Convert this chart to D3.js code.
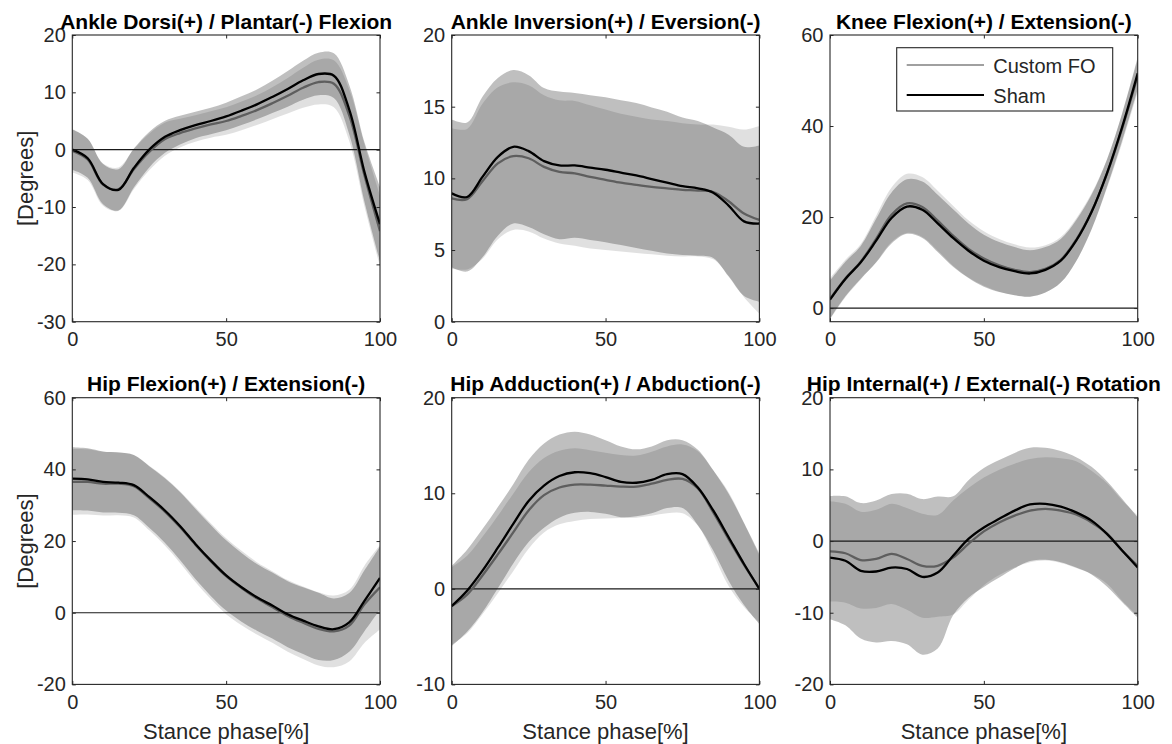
<!DOCTYPE html>
<html><head><meta charset="utf-8">
<script src="https://cdn.jsdelivr.net/npm/d3@7"></script>
<style>
body{margin:0;background:#fff}
svg{display:block}
text{font-family:"Liberation Sans",Arial,Helvetica,sans-serif}
</style></head>
<body><svg id="c" width="1172" height="744"></svg>
<script>
// ---------- DATA ----------
const stance = [0,5,10,15,20,25,30,35,40,45,50,55,60,65,70,75,80,85,90,95,100];
const seriesNames = ["Custom FO","Sham"];
const titles = [
  "Ankle Dorsi(+) / Plantar(-) Flexion",
  "Ankle Inversion(+) / Eversion(-)",
  "Knee Flexion(+) / Extension(-)",
  "Hip Flexion(+) / Extension(-)",
  "Hip Adduction(+) / Abduction(-)",
  "Hip Internal(+) / External(-) Rotation"
];
const yDomains = [[-30,20],[0,20],[-3,60],[-20,60],[-10,20],[-20,20]];
const yTickValues = [[-30,-20,-10,0,10,20],[0,5,10,15,20],[0,20,40,60],[-20,0,20,40,60],[-10,0,10,20],[-20,-10,0,10,20]];
const xTickValues = [0,50,100];
const yLabel = "[Degrees]";
const xLabel = "Stance phase[%]";

// Ankle dorsi/plantar flexion
const ankleDPSham   = [0,-1.5,-6.0,-7.0,-3.2,0.0,2.2,3.4,4.3,5.0,5.8,6.8,7.9,9.2,10.6,12.1,13.2,12.9,7.0,-4.0,-13.0];
const ankleDPShamSD = [3.5,3.4,3.5,3.6,3.4,3.1,2.8,2.5,2.3,2.3,2.4,2.5,2.6,2.8,3.1,3.4,3.7,3.9,4.3,5.2,6.5];
const ankleDPCFO    = [-0.2,-1.7,-6.1,-6.9,-3.4,-0.4,1.8,2.9,3.7,4.4,5.0,5.9,6.9,8.1,9.4,10.8,11.8,11.5,6.0,-4.6,-14.2];
const ankleDPCFOSD  = [3.8,3.6,3.7,3.8,3.5,3.2,2.9,2.5,2.3,2.3,2.4,2.5,2.6,2.8,3.1,3.5,3.9,4.1,4.5,5.4,6.2];
// Ankle inversion/eversion
const ankleIESham   = [8.95,8.7,10.1,11.5,12.2,11.9,11.2,10.9,10.9,10.75,10.6,10.4,10.2,9.95,9.7,9.45,9.3,9.0,8.1,7.0,6.85];
const ankleIEShamSD = [5.15,5.2,5.6,5.5,5.35,5.3,5.1,5.15,5.05,5.05,5.05,5.05,5.05,5.0,4.95,4.8,4.7,4.55,4.95,5.2,5.45];
const ankleIECFO    = [8.6,8.55,9.8,11.05,11.55,11.4,10.8,10.45,10.35,10.1,9.9,9.7,9.55,9.4,9.3,9.2,9.15,9.05,8.4,7.55,7.1];
const ankleIECFOSD  = [4.9,4.9,5.4,5.3,5.15,5.1,5.0,5.0,5.05,5.0,4.9,4.8,4.75,4.7,4.7,4.65,4.6,4.7,5.2,5.85,6.55];
// Knee flexion/extension
const kneeSham   = [1.85,6.4,10.05,14.8,19.8,22.3,21.6,18.6,15.4,12.6,10.4,9.0,8.1,7.6,8.4,10.4,14.8,21.1,29.6,39.9,51.6];
const kneeShamSD = [4.2,3.8,3.6,4.8,5.6,6.0,6.2,6.3,6.3,6.0,5.7,5.5,5.3,5.1,5.0,4.8,4.5,3.8,3.0,3.0,3.5];
const kneeCFO    = [2.0,6.5,10.2,15.2,20.5,23.0,22.2,19.2,15.9,13.0,10.9,9.4,8.4,7.9,8.6,10.6,15.0,21.2,29.5,39.6,51.0];
const kneeCFOSD  = [4.5,4.1,3.9,5.1,6.0,6.5,6.6,6.6,6.6,6.3,6.0,5.8,5.6,5.4,5.2,5.0,4.7,4.0,3.2,3.2,3.6];
// Hip flexion/extension
const hipFESham   = [37.4,37.2,36.5,36.3,35.6,32.3,28.6,24.2,19.2,14.6,10.4,7.1,4.3,2.0,-0.4,-2.2,-3.8,-4.6,-2.7,3.4,9.7];
const hipFEShamSD = [8.8,8.7,8.5,8.4,8.4,8.6,9.0,9.5,9.8,9.9,9.8,9.6,9.3,9.2,9.2,9.3,9.4,8.6,8.2,8.5,8.8];
const hipFECFO    = [36.5,36.5,36.0,36.0,35.3,32.0,28.3,23.9,19.0,14.4,10.2,6.9,4.0,1.6,-0.9,-2.8,-4.5,-5.2,-3.6,2.4,7.1];
const hipFECFOSD  = [9.2,9.1,8.9,8.8,8.7,9.0,9.5,10.0,10.4,10.6,10.6,10.4,10.1,10.0,10.0,10.1,10.2,10.0,10.0,10.8,11.8];
// Hip adduction/abduction
const hipAASham   = [-1.8,-0.2,1.9,4.3,6.8,9.2,10.8,11.8,12.2,12.1,11.7,11.2,11.1,11.4,12.0,12.0,10.6,8.2,5.4,2.6,0.0];
const hipAAShamSD = [4.2,4.3,4.35,4.25,4.15,4.3,4.4,4.35,4.25,4.05,3.85,3.7,3.5,3.5,3.55,3.55,3.95,4.2,4.55,4.3,3.7];
const hipAACFO    = [-1.8,-0.6,1.4,3.6,5.9,8.2,9.8,10.6,10.9,10.9,10.8,10.7,10.7,11.0,11.4,11.5,10.5,8.0,5.2,2.5,0.0];
const hipAACFOSD  = [4.05,4.05,4.05,4.05,4.05,4.0,3.9,3.85,3.8,3.6,3.45,3.3,3.25,3.35,3.5,3.6,3.9,4.4,4.9,4.4,3.5];
// Hip internal/external rotation
const hipIESham   = [-2.3,-2.75,-4.15,-4.25,-3.7,-3.9,-5.0,-4.4,-2.05,0.3,1.9,3.1,4.25,5.1,5.2,4.8,4.0,2.85,1.0,-1.35,-3.7];
const hipIEShamSD = [8.6,9.0,9.45,9.9,10.25,10.5,10.85,10.6,8.3,8.2,8.3,8.2,8.05,7.9,7.8,7.75,7.7,7.5,7.35,7.2,7.0];
const hipIECFO    = [-1.45,-1.7,-2.65,-2.5,-1.8,-2.5,-3.45,-3.45,-2.3,-0.4,1.35,2.6,3.55,4.25,4.5,4.25,3.7,2.6,1.05,-1.35,-3.45];
const hipIECFOSD  = [7.0,6.9,6.75,6.85,7.0,7.1,7.25,7.1,7.95,7.8,7.5,7.35,7.25,7.2,7.2,7.3,7.45,7.2,7.0,7.0,7.0];

const panels = [
  {cfo:ankleDPCFO, cfoSD:ankleDPCFOSD, sham:ankleDPSham, shamSD:ankleDPShamSD},
  {cfo:ankleIECFO, cfoSD:ankleIECFOSD, sham:ankleIESham, shamSD:ankleIEShamSD},
  {cfo:kneeCFO, cfoSD:kneeCFOSD, sham:kneeSham, shamSD:kneeShamSD},
  {cfo:hipFECFO, cfoSD:hipFECFOSD, sham:hipFESham, shamSD:hipFEShamSD},
  {cfo:hipAACFO, cfoSD:hipAACFOSD, sham:hipAASham, shamSD:hipAAShamSD},
  {cfo:hipIECFO, cfoSD:hipIECFOSD, sham:hipIESham, shamSD:hipIEShamSD}
];

// ---------- LAYOUT ----------
const svg = d3.select("#c");
const colX = [72.3, 451.7, 830], rowY = [35, 397.7];
const W = 307.7, H = 286.7;
const axisColor = "#262626";
const curve = d3.curveCatmullRom.alpha(0.5);
const fmt = d => String(d);

panels.forEach((p, i) => {
  const col = i % 3, row = Math.floor(i / 3);
  const g = svg.append("g").attr("transform", `translate(${colX[col]},${rowY[row]})`);
  const x = d3.scaleLinear().domain([0,100]).range([0,W]);
  const y = d3.scaleLinear().domain(yDomains[i]).range([H,0]);

  const clipId = "clip" + i;
  g.append("clipPath").attr("id", clipId).append("rect").attr("width", W).attr("height", H);
  const plot = g.append("g").attr("clip-path", `url(#${clipId})`);

  const band = (m, s) => d3.area()
    .x((d,j) => x(stance[j]))
    .y0((d,j) => y(m[j] - s[j]))
    .y1((d,j) => y(m[j] + s[j]))
    .curve(curve)(m);
  const line = m => d3.line().x((d,j) => x(stance[j])).y(d => y(d)).curve(curve)(m);

  plot.append("path").attr("d", band(p.cfo, p.cfoSD)).attr("fill", "#000").attr("fill-opacity", 0.12);
  plot.append("path").attr("d", band(p.sham, p.shamSD)).attr("fill", "#000").attr("fill-opacity", 0.25);

  if (yDomains[i][0] < 0) {
    plot.append("line").attr("x1", 0).attr("x2", W).attr("y1", y(0)).attr("y2", y(0))
      .attr("stroke", "#1a1a1a").attr("stroke-width", 1.2);
  }
  plot.append("path").attr("d", line(p.cfo)).attr("fill", "none").attr("stroke", "#5e5e5e").attr("stroke-width", 2.3);
  plot.append("path").attr("d", line(p.sham)).attr("fill", "none").attr("stroke", "#000").attr("stroke-width", 2.3);

  // axes
  const styleAxis = sel => {
    sel.select(".domain").remove();
    sel.selectAll(".tick line").attr("stroke", axisColor);
    sel.selectAll(".tick text").attr("fill", axisColor).style("font-size", "20px")
      .style("font-family", '"Liberation Sans",Arial,Helvetica,sans-serif');
  };
  g.append("g").call(d3.axisLeft(y).tickValues(yTickValues[i]).tickSize(-3.5).tickPadding(6.5).tickFormat(fmt)).call(styleAxis);
  g.append("g").attr("transform", `translate(${W},0)`).call(d3.axisRight(y).tickValues(yTickValues[i]).tickSize(-3.5).tickFormat("")).call(styleAxis);
  g.append("g").attr("transform", `translate(0,${H})`).call(d3.axisBottom(x).tickValues(xTickValues).tickSize(-3.5).tickPadding(10.5).tickFormat(fmt)).call(styleAxis);
  g.append("g").call(d3.axisTop(x).tickValues(xTickValues).tickSize(-3.5).tickFormat("")).call(styleAxis);
  g.append("rect").attr("width", W).attr("height", H).attr("fill", "none").attr("stroke", axisColor).attr("stroke-width", 1.1);

  g.append("text").attr("x", W/2).attr("y", -6.5).attr("text-anchor", "middle")
    .style("font-size", "21px").style("font-weight", "bold").attr("fill", "#000").text(titles[i]);

  if (col === 0) {
    g.append("text").attr("transform", `translate(${32.5 - colX[0]},${H/2}) rotate(-90)`)
      .attr("text-anchor", "middle").style("font-size", "22px").attr("fill", axisColor).text(yLabel);
  }
  if (row === 1) {
    g.append("text").attr("x", W/2).attr("y", 739 - rowY[1]).attr("text-anchor", "middle")
      .style("font-size", "22px").attr("fill", axisColor).text(xLabel);
  }

  if (i === 2) {
    const lg = g.append("g").attr("transform", "translate(66.7,12.7)");
    lg.append("rect").attr("width", 216).attr("height", 63.3).attr("fill", "#fff").attr("stroke", axisColor).attr("stroke-width", 1.1);
    const items = [{name: seriesNames[0], color: "#808080", w: 1.6}, {name: seriesNames[1], color: "#000", w: 2}];
    items.forEach((it, k) => {
      const yy = 17.3 + k * 30;
      lg.append("line").attr("x1", 10).attr("x2", 87.3).attr("y1", yy).attr("y2", yy).attr("stroke", it.color).attr("stroke-width", it.w);
      lg.append("text").attr("x", 96.6).attr("y", yy + 8.3).style("font-size", "20px").attr("fill", axisColor).text(it.name);
    });
  }
});
</script></body></html>
